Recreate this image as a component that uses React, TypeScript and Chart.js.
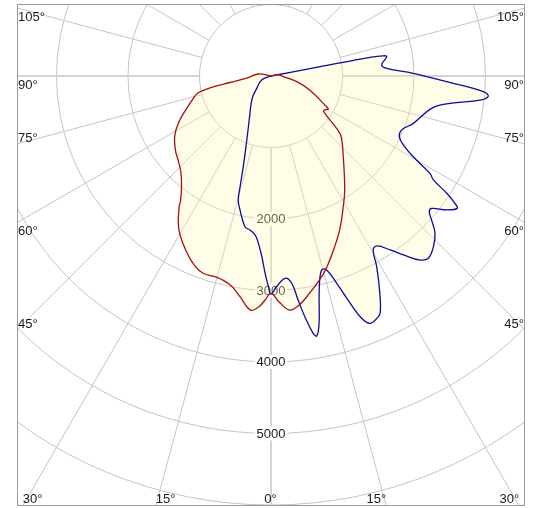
import { useEffect, useRef } from 'react';
import { Chart, registerables } from 'chart.js';

Chart.register(...registerables);

// ---- data (gamma angle in degrees, 0 = straight down, negative = left half; intensity in cd) ----
const RED_ANGLES = [-90, -99, -85, -81, -79, -77, -74, -68, -63, -58, -52, -48, -43, -39, -36, -35, -31, -26, -22, -19, -15, -11, -8, -5, -3, -1.5, 0, 2, 4.5, 7, 10, 15, 19, 24, 29, 33, 42, 49, 51, 56, 58, 60, 61, 70, 77.5, 87, 98, 90];
const RED_VALUES = [0, 180, 341, 581, 870, 1045, 1130, 1293, 1455, 1589, 1695, 1750, 1847, 1989, 2151, 2241, 2502, 2715, 2858, 2918, 2916, 2979, 3117, 3286, 3231, 3134, 3040, 3159, 3284, 3228, 3088, 2855, 2628, 2360, 2085, 1893, 1510, 1303, 1207, 886, 892, 927, 889, 580, 368, 172, 103, 0];

const BLUE_ANGLES = [-90, -67, -49, -41.5, -33.5, -29.4, -24, -19.5, -17, -15.6, -14.8, -13, -9.8, -7.8, -5.7, -4.3, -2.9, -1.7, -0.7, 0, 1.5, 4, 5.7, 6.9, 8, 9.3, 10, 11, 12.7, 14.6, 16, 17.6, 19.2, 20.5, 21.8, 23.6, 24.7, 26.6, 29, 30.4, 31.9, 34.4, 36.5, 39, 40.8, 43.6, 46.2, 48.1, 49.4, 50.5, 52.7, 54.6, 55.3, 56.3, 57.4, 58.5, 60.4, 62.5, 64.7, 67.6, 71.6, 78.6, 81.3, 83.4, 84.7, 85.8, 87.7, 91.1, 93.8, 95.7, 99.5, 100.2, 100.7, 100.7, 100.7];
const BLUE_VALUES = [0, 142, 264, 386, 515, 599, 777, 1049, 1326, 1608, 1793, 1924, 2139, 2174, 2235, 2347, 2531, 2761, 2947, 3049, 2948, 2836, 2913, 3157, 3399, 3647, 3692, 3524, 3068, 2804, 2822, 3042, 3365, 3618, 3726, 3698, 3652, 3400, 3049, 2823, 2800, 2948, 3113, 3312, 3368, 3294, 3178, 3018, 2916, 2912, 3091, 3196, 3129, 2955, 2696, 2607, 2288, 2087, 1985, 1978, 2098, 2292, 2533, 2943, 3052, 2977, 2551, 1990, 1622, 1555, 1641, 1596, 1409, 700, 0];

const RING_VALUES = [1000, 2000, 3000, 4000, 5000, 6000, 7000];
const RING_LABELS = [2000, 3000, 4000, 5000];
const SPOKE_ANGLES = [-165, -150, -135, -120, -105, -90, -75, -60, -45, -30, -15, 0, 15, 30, 45, 60, 75, 90, 105, 120, 135, 150, 165, 180];
const SIDE_LABEL_ANGLES = [45, 60, 75, 90, 105];
const BOTTOM_LABEL_ANGLES = [-30, -15, 0, 15, 30];

// ---- layout / style ----
const W = 535;
const H = 508;
const PAD = { left: 17, top: 4, right: 10, bottom: 2 };
const CENTER_X = 271;
const CENTER_Y = 76;
const PX_PER_1000 = 71.5;
const U = 1000 / PX_PER_1000;
const FONT = '13px "Liberation Sans", Arial, sans-serif';
const GRID = '#c4c4c4';
const AXIS = '#d4d4d4';
const TEXT = '#1a1a1a';
const FILL = 'rgba(255, 246, 175, 0.3)';
const RED = '#a80f0f';
const BLUE = '#0b0b9c';
const LABEL_ABOVE: Record<number, boolean> = { 45: true, 60: false, 75: true, 90: false, 105: false };

const toXY = (angles: number[], values: number[]) =>
  angles.map((a, i) => {
    const r = (a * Math.PI) / 180;
    return { x: values[i] * Math.sin(r), y: -values[i] * Math.cos(r) };
  });

const polarPlugin = {
  id: 'polarPlugin',
  beforeDatasetsDraw(chart: any) {
    const { ctx, chartArea: a, scales } = chart;
    const xs = scales.x;
    const ys = scales.y;
    const cx = xs.getPixelForValue(0);
    const cy = ys.getPixelForValue(0);
    const k = xs.getPixelForValue(1000) - cx;
    const P = (ang: number, v: number) => {
      const r = (ang * Math.PI) / 180;
      return [xs.getPixelForValue(v * Math.sin(r)), ys.getPixelForValue(-v * Math.cos(r))];
    };
    ctx.save();
    ctx.beginPath();
    ctx.rect(a.left, a.top, a.right - a.left, a.bottom - a.top);
    ctx.clip();

    // rings
    ctx.strokeStyle = GRID;
    ctx.lineWidth = 1;
    for (const v of RING_VALUES) {
      ctx.beginPath();
      ctx.arc(cx, cy, (v / 1000) * k, 0, Math.PI * 2);
      ctx.stroke();
    }
    // spokes
    const drawSpoke = (ang: number) => {
      const [x0, y0] = P(ang, RING_VALUES[0]);
      const [x1, y1] = P(ang, 12000);
      ctx.beginPath();
      ctx.moveTo(x0, y0);
      ctx.lineTo(x1, y1);
      ctx.stroke();
    };
    for (const ang of SPOKE_ANGLES) {
      if (ang % 90 === 0) continue;
      drawSpoke(ang);
    }
    ctx.strokeStyle = AXIS;
    ctx.lineWidth = 2;
    for (const ang of SPOKE_ANGLES) {
      if (ang % 90 !== 0) continue;
      drawSpoke(ang);
    }

    ctx.font = FONT;
    // ring labels
    ctx.textAlign = 'center';
    ctx.textBaseline = 'middle';
    for (const v of RING_LABELS) {
      const [px, py] = P(0, v);
      const t = String(v);
      const w = ctx.measureText(t).width;
      ctx.fillStyle = '#ffffff';
      ctx.fillRect(px - w / 2 - 2, py - 7, w + 4, 14);
      ctx.fillStyle = TEXT;
      ctx.fillText(t, px, py + 0.5);
    }
    // side angle labels
    ctx.fillStyle = TEXT;
    ctx.textBaseline = 'alphabetic';
    for (const ang of SIDE_LABEL_ANGLES) {
      const r = (ang * Math.PI) / 180;
      for (const s of [-1, 1]) {
        const edge = s < 0 ? a.left : a.right;
        const t = Math.abs(edge - cx) / Math.sin(r);
        const py = cy + Math.cos(r) * t;
        const by = LABEL_ABOVE[ang] ? py - 2.5 : py + 12.8;
        ctx.textAlign = s < 0 ? 'left' : 'right';
        ctx.fillText(`${ang}°`, s < 0 ? edge + 1 : edge - 1, by);
      }
    }
    // bottom angle labels
    for (const ang of BOTTOM_LABEL_ANGLES) {
      const r = (ang * Math.PI) / 180;
      const t = (a.bottom - cy) / Math.cos(r);
      const px = cx + Math.sin(r) * t;
      ctx.textAlign = ang < 0 ? 'left' : ang > 0 ? 'right' : 'center';
      ctx.fillText(`${Math.abs(ang)}°`, ang === 0 ? px - 0.5 : px, a.bottom - 3);
    }

    // union fill of both curves
    ctx.beginPath();
    chart.data.datasets.forEach((_: any, i: number) => {
      const meta = chart.getDatasetMeta(i);
      const line = meta.dataset;
      if (line && line.points && line.points.length) {
        line.updateControlPoints(a, 'x');
        line.path(ctx);
        ctx.closePath();
      }
    });
    ctx.fillStyle = FILL;
    ctx.fill('nonzero');
    ctx.restore();
  },
  afterDraw(chart: any) {
    const { ctx, chartArea: a } = chart;
    ctx.save();
    ctx.strokeStyle = '#9a9a9a';
    ctx.lineWidth = 1;
    ctx.strokeRect(a.left + 0.5, a.top + 0.5, a.right - a.left - 1, a.bottom - a.top - 1);
    ctx.restore();
  },
};

export default function App() {
  const ref = useRef<HTMLCanvasElement | null>(null);
  useEffect(() => {
    if (!ref.current) return;
    const chart = new Chart(ref.current, {
      type: 'line',
      data: {
        datasets: [
          {
            label: 'C0 - C180',
            data: toXY(RED_ANGLES, RED_VALUES),
            borderColor: RED,
            borderWidth: 1.3,
            pointRadius: 0,
            tension: 0.4,
            fill: false,
          },
          {
            label: 'C90 - C270',
            data: toXY(BLUE_ANGLES, BLUE_VALUES),
            borderColor: BLUE,
            borderWidth: 1.3,
            pointRadius: 0,
            tension: 0.4,
            fill: false,
          },
        ],
      },
      options: {
        responsive: false,
        animation: false,
        events: [],
        layout: { padding: PAD },
        plugins: { legend: { display: false }, tooltip: { enabled: false } },
        scales: {
          x: {
            type: 'linear',
            display: false,
            min: -(CENTER_X - PAD.left) * U,
            max: (W - PAD.right - CENTER_X) * U,
          },
          y: {
            type: 'linear',
            display: false,
            min: -(H - PAD.bottom - CENTER_Y) * U,
            max: (CENTER_Y - PAD.top) * U,
          },
        },
      },
      plugins: [polarPlugin],
    } as any);
    return () => chart.destroy();
  }, []);
  return (
    <div style={{ position: 'fixed', left: 0, top: 0, width: W, height: H, background: '#fff' }}>
      <canvas ref={ref} width={W} height={H} style={{ display: 'block' }} />
    </div>
  );
}
